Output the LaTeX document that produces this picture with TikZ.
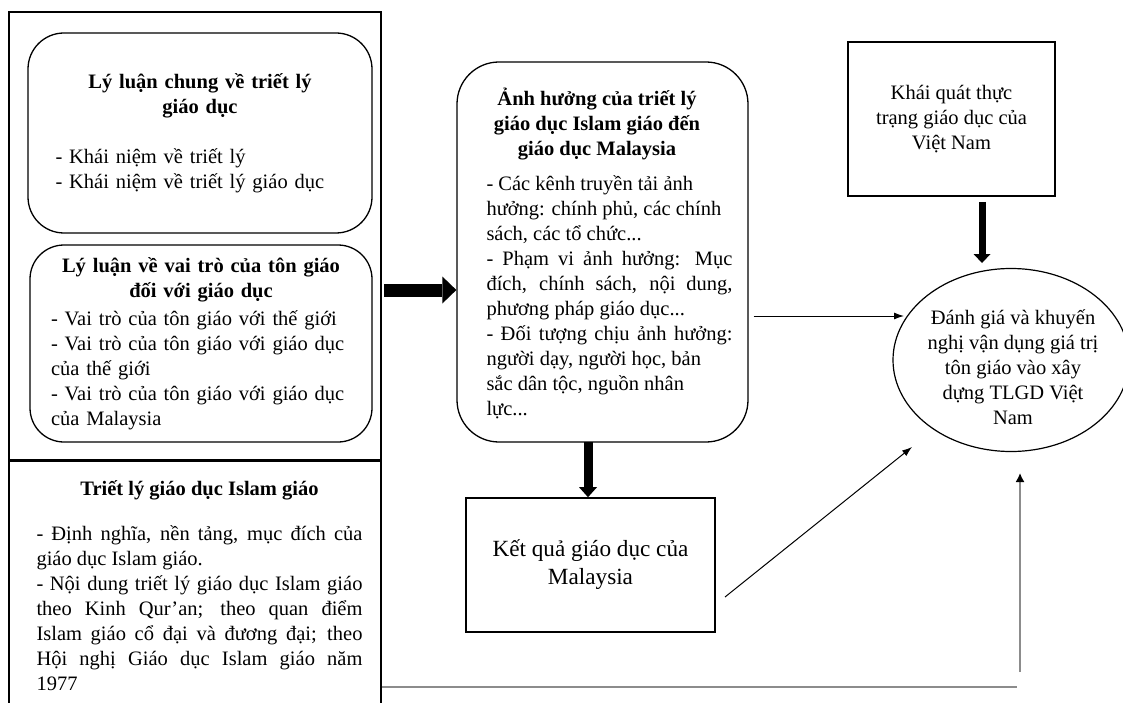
\documentclass[tikz,border=0pt]{standalone}
\usepackage{fontspec}
\setmainfont{Liberation Serif}
\usetikzlibrary{arrows.meta,shapes.geometric}
\setlength{\parindent}{0pt}
\tikzset{
	chu/.style={font=\fontsize{20.5pt}{25pt}\selectfont},
	khungbox/.style={draw, line width=1.6pt, inner sep=0pt},
	roundbox/.style={draw, line width=1.3pt, inner sep=0pt, rounded corners=#1},
	roundbox/.default=36pt,
	thinarrow/.style={line width=1pt, -{Latex[length=10pt,width=7pt]}},
	grayline/.style={line width=1.6pt, color=black!45}
}

\begin{document}
\begin{tikzpicture}[x=1pt, y=-1pt, chu]
		%%%%% START %%%%%
		\useasboundingbox (0,0) rectangle (1123,703);
		\clip (0,0) rectangle (1123,703);
		
		% khung ben trai
		\node[khungbox, minimum width=372pt, minimum height=448pt] (lyluankhung) at (195,236) {};
		\node[khungbox, minimum width=372pt, minimum height=260pt, anchor=north] (islamkhung) at (195,460) {};
		
		\node[roundbox=36pt, minimum width=344pt, minimum height=200pt, text width=289pt, align=left] (lyluanchung) at (200,133) {%
			{\centering\bfseries Lý luận chung về triết lý\\ giáo dục\par}
			\vspace{25pt}
			- Khái niệm về triết lý\\
			- Khái niệm về triết lý giáo dục};
		
		\node[roundbox=34pt, minimum width=342pt, minimum height=197pt, text width=300pt, align=left] (vaitro) at (201,343.5) {%
			{\centering\bfseries Lý luận về vai trò của tôn giáo\\ đối với giáo dục\par}
			\vspace{3pt}
			- Vai trò của tôn giáo với thế giới\\
			- Vai trò của tôn giáo với giáo dục\\
			của thế giới\\
			- Vai trò của tôn giáo với giáo dục\\
			của Malaysia};
		
		\node[inner sep=0pt, text width=326pt, align=justify, anchor=north] (islamtxt) at (199.5,480) {%
			{\centering\bfseries Triết lý giáo dục Islam giáo\par}
			\vspace{20pt}
			- Định nghĩa, nền tảng, mục đích của\linebreak
			giáo dục Islam giáo.\\
			- Nội dung triết lý giáo dục Islam giáo\linebreak
			theo Kinh Qur’an; theo quan điểm\linebreak
			Islam giáo cổ đại và đương đại; theo\linebreak
			Hội nghị Giáo dục Islam giáo năm\linebreak
			1977};
		
		% khung giua
		\node[roundbox=42pt, minimum width=291pt, minimum height=380pt] (anhhuong) at (602.5,252) {};
		\node[inner sep=0pt, text width=246pt, align=justify] (anhhuongtxt) at (609.5,253) {%
			{\centering\leftskip=-25pt plus 1fil\bfseries Ảnh hưởng của triết lý\\ giáo dục Islam giáo đến\\ giáo dục Malaysia\par}
			\vspace{10pt}
			- Các kênh truyền tải ảnh\\
			hưởng: chính phủ, các chính\\
			sách, các tổ chức...\\
			- Phạm vi ảnh hưởng: Mục\linebreak
			đích, chính sách, nội dung,\linebreak
			phương pháp giáo dục...\\
			- Đối tượng chịu ảnh hưởng:\linebreak
			người dạy, người học, bản\\
			sắc dân tộc, nguồn nhân\\
			lực...};
		
		\node[khungbox, minimum width=249pt, minimum height=134pt, align=center, font=\fontsize{23.2pt}{28pt}\selectfont] (ketqua) at (590.5,565) {Kết quả giáo dục của\\ Malaysia};
		
		% ben phai
		\node[khungbox, minimum width=207pt, minimum height=154pt, align=center] (thuctrang) at (951.5,119) {Khái quát thực\\ trạng giáo dục của\\ Việt Nam};
		
		\node[draw, ellipse, line width=1.2pt, minimum width=236pt, minimum height=183pt, inner sep=0pt] (danhgia) at (1011,360) {};
		\node[inner sep=0pt, align=center] (danhgiatxt) at (1013,367) {Đánh giá và khuyến\\ nghị vận dụng giá trị\\ tôn giáo vào xây\\ dựng TLGD Việt\\ Nam};
		
		% mui ten
		\coordinate (ra1) at (384,290);
		\draw[line width=13pt, -{Triangle[length=14pt,width=27pt,line width=0pt]}] (ra1) -- (ra1 -| anhhuong.west);
		
		\coordinate (xuong1) at (588,442);
		\draw[line width=9pt, -{Triangle[length=10pt,width=18pt,line width=0pt]}] (xuong1) -- (xuong1 |- ketqua.north);
		
		\coordinate (vn1) at (982,202);
		\coordinate (vn2) at (982,263);
		\draw[line width=7pt, -{Triangle[length=9pt,width=17pt,line width=0pt]}] (vn1) -- (vn2);
		
		\coordinate (ngang2) at (904,316);
		\draw[thinarrow, shorten <=5pt] (anhhuong.east |- ngang2) -- (ngang2);
		
		\coordinate (cheo1) at (725,597);
		\coordinate (cheo2) at (912,447);
		\draw[thinarrow] (cheo1) -- (cheo2);
		
		\coordinate (xam1) at (1017,687);
		\coordinate (xam2) at (1020,672);
		\coordinate (xam3) at (1020,473);
		\draw[grayline] (islamkhung.east |- xam1) -- (xam1);
		\draw[grayline, -{Latex[length=9pt,width=9pt,color=black]}] (xam2) -- (xam3);
		
		%%%%% END %%%%%
	\end{tikzpicture}
\end{document}
